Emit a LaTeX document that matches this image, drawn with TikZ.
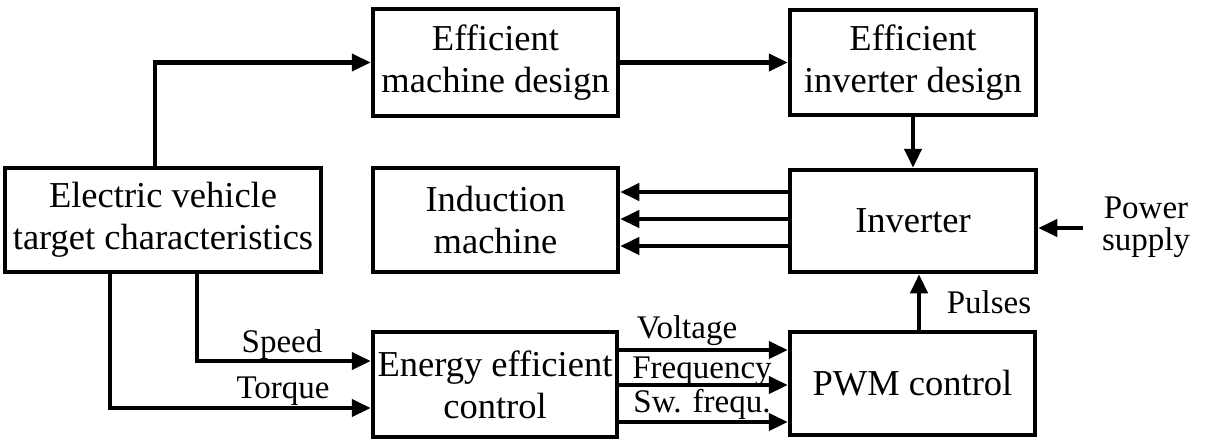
\documentclass[tikz,border=0pt]{standalone}
\usepackage{fontspec}
\setmainfont{Liberation Serif}
\usetikzlibrary{arrows.meta}
\tikzset{
  blk/.style={draw, line width=4.5pt, rectangle, align=center, inner sep=0pt,
    font=\fontsize{36.5}{42}\selectfont},
  arr/.style={line width=4.5pt, -{Triangle[length=19pt,width=17pt]}},
  lbl/.style={font=\fontsize{33}{38}\selectfont, anchor=base, inner sep=0pt},
}
\begin{document}
\begin{tikzpicture}[x=1pt,y=-1pt]
\useasboundingbox (0,0) rectangle (1208,442);
\node[blk, minimum width=316pt, minimum height=104pt] (ev) at (163,220) {Electric vehicle\\target characteristics};
\node[blk, minimum width=245pt, minimum height=107pt] (md) at (495.5,62.5) {Efficient\\machine design};
\node[blk, minimum width=246pt, minimum height=105pt] (id) at (913,62.5) {Efficient\\inverter design};
\node[blk, minimum width=245pt, minimum height=104pt] (im) at (495.5,220) {Induction\\machine};
\node[blk, minimum width=246pt, minimum height=102pt] (inv) at (913,221) {Inverter};
\node[blk, minimum width=244pt, minimum height=105pt] (eec) at (495,384.5) {Energy efficient\\control};
\node[blk, minimum width=245pt, minimum height=103pt] (pwm) at (912.5,383.5) {PWM control};

\draw[arr] (ev.north -| 155,0) |- (md.west);
\draw[arr] (md.east) -- (id.west);
\draw[arr] (id.south) -- (inv.north);
\draw[arr] (inv.west |- 0,192) -- (im.east |- 0,192);
\draw[arr] (inv.west |- 0,219) -- (im.east |- 0,219);
\draw[arr] (inv.west |- 0,246) -- (im.east |- 0,246);
\coordinate (ps) at (1083,228);
\draw[arr] (ps) -- (inv.east |- ps);
\node[lbl] (psl1) at (1146,218) {Power};
\node[lbl] (psl2) at (1146,250) {supply};
\draw[arr] (pwm.north -| 919,0) -- (inv.south -| 919,0);
\node[lbl] (pul) at (989,313) {Pulses};
\draw[arr] (ev.south -| 197,0) |- (eec.west |- 0,361);
\draw[arr] (ev.south -| 110,0) |- (eec.west |- 0,408);
\node[lbl] (spd) at (282,352) {Speed};
\node[lbl] (trq) at (283,398) {Torque};
\draw[arr] (eec.east |- 0,350) -- (pwm.west |- 0,350);
\draw[arr] (eec.east |- 0,385) -- (pwm.west |- 0,385);
\draw[arr] (eec.east |- 0,422) -- (pwm.west |- 0,422);
\node[lbl] (vl) at (687,338) {Voltage};
\node[lbl] (fl) at (702,378) {Frequency};
\node[lbl] (sl) at (702,412) {Sw. frequ.};
\end{tikzpicture}
\end{document}
